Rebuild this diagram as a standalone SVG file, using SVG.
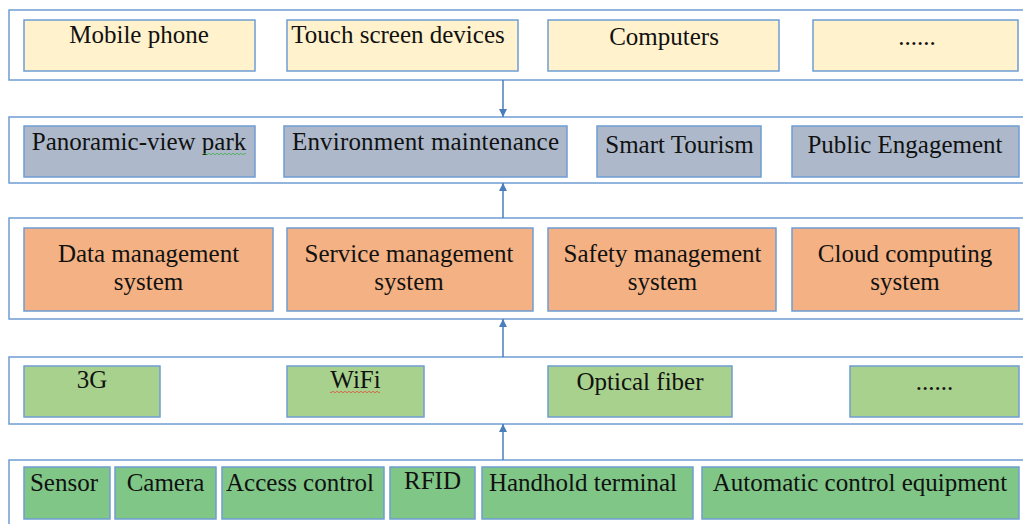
<svg xmlns="http://www.w3.org/2000/svg" width="1023" height="524" viewBox="0 0 1023 524">
<defs>
<style>
.outer{fill:#fff;stroke:#6f9dd3;stroke-width:1.5}
.box{stroke:#6f9dd3;stroke-width:1.5}
.y{fill:#fff2cc}.g{fill:#adb9ca}.o{fill:#f4b183}.l{fill:#a9d18e}.d{fill:#80c687}
text{font-family:"Liberation Serif","Times New Roman",serif;font-size:25px;fill:#111;text-anchor:middle}
.conn{stroke:#4a7ebb;stroke-width:1.5;fill:none}
</style>
<marker id="ah" viewBox="0 0 10 10" refX="10" refY="5" markerWidth="8" markerHeight="8" markerUnits="userSpaceOnUse" orient="auto">
<path d="M0,0 L10,5 L0,10 Z" fill="#4a7ebb"/>
</marker>
</defs>
<rect width="1023" height="524" fill="#fff"/>
<g id="layer1">
<rect class="outer" x="9" y="10" width="1030" height="70"/>
<g id="n-mobile"><rect class="box y" x="24" y="20" width="231" height="51"/><text x="139" y="43">Mobile phone</text></g>
<g id="n-touch"><rect class="box y" x="287" y="20" width="231" height="51"/><text x="398" y="43">Touch screen devices</text></g>
<g id="n-computers"><rect class="box y" x="548" y="20" width="231" height="51"/><text x="664" y="45">Computers</text></g>
<g id="n-more1"><rect class="box y" x="813" y="20" width="205" height="51"/><text x="917" y="45">......</text></g>
</g>
<g id="layer2">
<rect class="outer" x="9" y="117" width="1030" height="66"/>
<g id="n-panoramic"><rect class="box g" x="24" y="126" width="231" height="51"/><text x="139" y="150">Panoramic-view park</text>
<path d="M204,154 q1,-1.5 2,0 t2,0 t2,0 t2,0 t2,0 t2,0 t2,0 t2,0 t2,0 t2,0 t2,0 t2,0 t2,0 t2,0 t2,0 t2,0 t2,0 t2,0 t2,0 t2,0 t2,0" fill="none" stroke="#3fae49" stroke-width="0.8"/></g>
<g id="n-environment"><rect class="box g" x="284" y="126" width="283" height="51"/><text x="425.5" y="150" textLength="267" lengthAdjust="spacing">Environment maintenance</text></g>
<g id="n-tourism"><rect class="box g" x="597" y="126" width="164" height="51"/><text x="679.5" y="153">Smart Tourism</text></g>
<g id="n-public"><rect class="box g" x="792" y="126" width="227" height="51"/><text x="905" y="153">Public Engagement</text></g>
</g>
<g id="layer3">
<rect class="outer" x="9" y="218" width="1030" height="101"/>
<g id="n-data"><rect class="box o" x="24" y="228" width="249" height="83"/><text x="148.5" y="262">Data management</text><text x="148.5" y="290">system</text></g>
<g id="n-service"><rect class="box o" x="287" y="228" width="246" height="83"/><text x="409" y="262">Service management</text><text x="409" y="290">system</text></g>
<g id="n-safety"><rect class="box o" x="548" y="228" width="228" height="83"/><text x="662.5" y="262">Safety management</text><text x="662.5" y="290">system</text></g>
<g id="n-cloud"><rect class="box o" x="792" y="228" width="227" height="83"/><text x="905" y="262">Cloud computing</text><text x="905" y="290">system</text></g>
</g>
<g id="layer4">
<rect class="outer" x="9" y="357" width="1030" height="67"/>
<g id="n-3g"><rect class="box l" x="24" y="366" width="136" height="51"/><text x="92" y="388">3G</text></g>
<g id="n-wifi"><rect class="box l" x="287" y="366" width="137" height="51"/><text x="355.5" y="388">WiFi</text>
<path d="M330,392 q1,1.5 2,0 t2,0 t2,0 t2,0 t2,0 t2,0 t2,0 t2,0 t2,0 t2,0 t2,0 t2,0 t2,0 t2,0 t2,0 t2,0 t2,0 t2,0 t2,0 t2,0 t2,0 t2,0 t2,0 t2,0 t2,0" fill="none" stroke="#e0503c" stroke-width="0.8"/></g>
<g id="n-optical"><rect class="box l" x="548" y="366" width="184" height="51"/><text x="640" y="390">Optical fiber</text></g>
<g id="n-more2"><rect class="box l" x="850" y="366" width="169" height="51"/><text x="934.5" y="390">......</text></g>
</g>
<g id="layer5">
<rect class="outer" x="9" y="460" width="1030" height="80"/>
<g id="n-sensor"><rect class="box d" x="24" y="467" width="86" height="52"/><text x="64" y="491">Sensor</text></g>
<g id="n-camera"><rect class="box d" x="115" y="467" width="101" height="52"/><text x="165.5" y="491">Camera</text></g>
<g id="n-access"><rect class="box d" x="222" y="467" width="162" height="52"/><text x="300" y="491">Access control</text></g>
<g id="n-rfid"><rect class="box d" x="390" y="467" width="85" height="52"/><text x="432.5" y="489">RFID</text></g>
<g id="n-handhold"><rect class="box d" x="482" y="467" width="211" height="52"/><text x="583" y="491">Handhold terminal</text></g>
<g id="n-automatic"><rect class="box d" x="702" y="467" width="317" height="52"/><text x="860" y="491">Automatic control equipment</text></g>
</g>
<g id="connectors">
<line class="conn" x1="503" y1="80" x2="503" y2="117" marker-end="url(#ah)"/>
<line class="conn" x1="503" y1="218" x2="503" y2="183" marker-end="url(#ah)"/>
<line class="conn" x1="503" y1="357" x2="503" y2="319" marker-end="url(#ah)"/>
<line class="conn" x1="503" y1="460" x2="503" y2="424" marker-end="url(#ah)"/>
</g>
</svg>
